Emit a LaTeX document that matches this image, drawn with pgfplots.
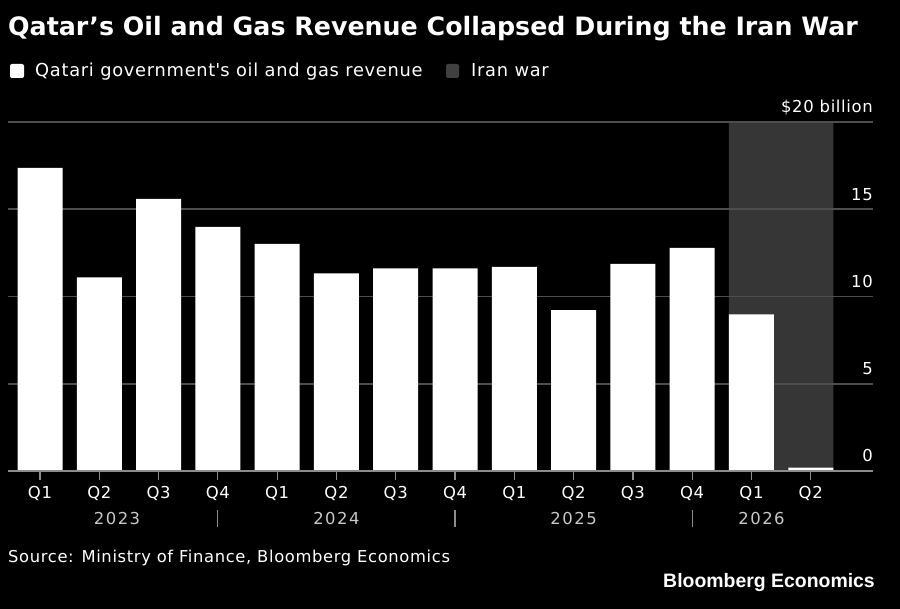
\documentclass[border=0pt]{standalone}
\usepackage{graphicx}
\usepackage{fontspec}
\setmainfont{DejaVu Sans}[LetterSpace=4]
\newfontfamily\titlefont{DejaVu Sans}
\newfontfamily\yearfont{DejaVu Sans}[LetterSpace=9]
\newfontfamily\bbfont{Liberation Sans}
\usepackage{pgfplots}
\pgfplotsset{compat=1.18}
\definecolor{gridc}{HTML}{4D4D4D}
\definecolor{basec}{HTML}{8C8C8C}
\definecolor{shadec}{HTML}{363636}
\definecolor{yearc}{HTML}{C8C8C8}
\definecolor{legc}{HTML}{404040}
\begin{document}
\begin{tikzpicture}[x=1bp,y=1bp]
\fill[black] (0,0) rectangle (900,609);
% title
\node[anchor=base west, inner sep=0, text=white, font=\titlefont\fontsize{25.4}{30}\selectfont\bfseries] at (8,573) {Qatar’s Oil and Gas Revenue Collapsed During the Iran War};
% legend
\fill[white, rounded corners=2] (10,531) rectangle (24,545);
\node[anchor=base west, inner sep=0, text=white, font=\fontsize{17.9}{20}\selectfont] at (35,532) {Qatari government\textquotesingle s oil and gas revenue};
\fill[legc, rounded corners=2] (446,531) rectangle (459,545);
\node[anchor=base west, inner sep=0, text=white, font=\fontsize{17.9}{20}\selectfont] at (471,532) {Iran war};
\begin{axis}[
  at={(8bp,138bp)}, anchor=south west,
  scale only axis, width=865bp, height=349bp,
  xmin=-0.54, xmax=14.05, ymin=0, ymax=20,
  clip=false,
  axis line style={draw=none},
  ytick=\empty,
  xtick={0,...,13},
  xticklabels={Q1,Q2,Q3,Q4,Q1,Q2,Q3,Q4,Q1,Q2,Q3,Q4,Q1,Q2},
  xtick pos=bottom,
  tick align=outside,
  major tick length=9bp,
  tick style={basec, line width=1.2bp},
  xticklabel style={text=white, font=\fontsize{16.5}{19}\selectfont, anchor=base, yshift=-19bp},
]
\addplot[fill=shadec, draw=none] coordinates {(11.62,0) (11.62,20) (13.38,20) (13.38,0)} \closedcycle;
\addplot[gridc, line width=1.6bp] coordinates {(-0.54,5) (14.05,5)};
\addplot[gridc, line width=1.6bp] coordinates {(-0.54,10) (14.05,10)};
\addplot[gridc, line width=1.6bp] coordinates {(-0.54,15) (14.05,15)};
\addplot[gridc, line width=1.6bp] coordinates {(-0.54,20) (14.05,20)};
\addplot[ybar, bar width=45bp, fill=white, draw=none] coordinates {
(0,17.37) (1,11.09) (2,15.60) (3,13.99) (4,13.02) (5,11.32) (6,11.61)
(7,11.61) (8,11.70) (9,9.22) (10,11.87) (11,12.79) (12,8.97) (13,0.2)};
\addplot[basec, line width=1.6bp] coordinates {(-0.54,0) (14.05,0)};
% right-hand value labels
\node[anchor=base east, inner sep=0, text=white, font=\fontsize{16.5}{19}\selectfont] at (axis cs:14.05,20) [yshift=9bp] {\$20 billion};
\node[anchor=base east, inner sep=0, text=white, font=\fontsize{16.5}{19}\selectfont] at (axis cs:14.05,15) [yshift=9bp] {15};
\node[anchor=base east, inner sep=0, text=white, font=\fontsize{16.5}{19}\selectfont] at (axis cs:14.05,10) [yshift=9bp] {10};
\node[anchor=base east, inner sep=0, text=white, font=\fontsize{16.5}{19}\selectfont] at (axis cs:14.05,5) [yshift=9bp] {5};
\node[anchor=base east, inner sep=0, text=white, font=\fontsize{16.5}{19}\selectfont] at (axis cs:14.05,0) [yshift=9bp] {0};
% year labels
\node[anchor=base, inner sep=0, text=yearc, font=\yearfont\fontsize{16.5}{19}\selectfont] at (axis cs:1.3,-3.09) {2023};
\node[anchor=base, inner sep=0, text=yearc, font=\yearfont\fontsize{16.5}{19}\selectfont] at (axis cs:5,-3.09) {2024};
\node[anchor=base, inner sep=0, text=yearc, font=\yearfont\fontsize{16.5}{19}\selectfont] at (axis cs:9,-3.09) {2025};
\node[anchor=base, inner sep=0, text=yearc, font=\yearfont\fontsize{16.5}{19}\selectfont] at (axis cs:12.17,-3.09) {2026};
% year separators
\draw[basec, line width=1.2bp] (axis cs:3,-2.235) -- (axis cs:3,-3.21);
\draw[basec, line width=1.2bp] (axis cs:7,-2.235) -- (axis cs:7,-3.21);
\draw[basec, line width=1.2bp] (axis cs:11,-2.235) -- (axis cs:11,-3.21);
\end{axis}
% footer
\node[anchor=base west, inner sep=0, text=white, font=\fontsize{16.4}{19}\selectfont] at (8,46) {Source: Ministry of Finance, Bloomberg Economics};
\node[anchor=base east, inner sep=0, text=white, font=\bbfont\fontsize{19.5}{22}\selectfont\bfseries] at (875,21) {Bloomberg Economics};
\end{tikzpicture}
\end{document}
